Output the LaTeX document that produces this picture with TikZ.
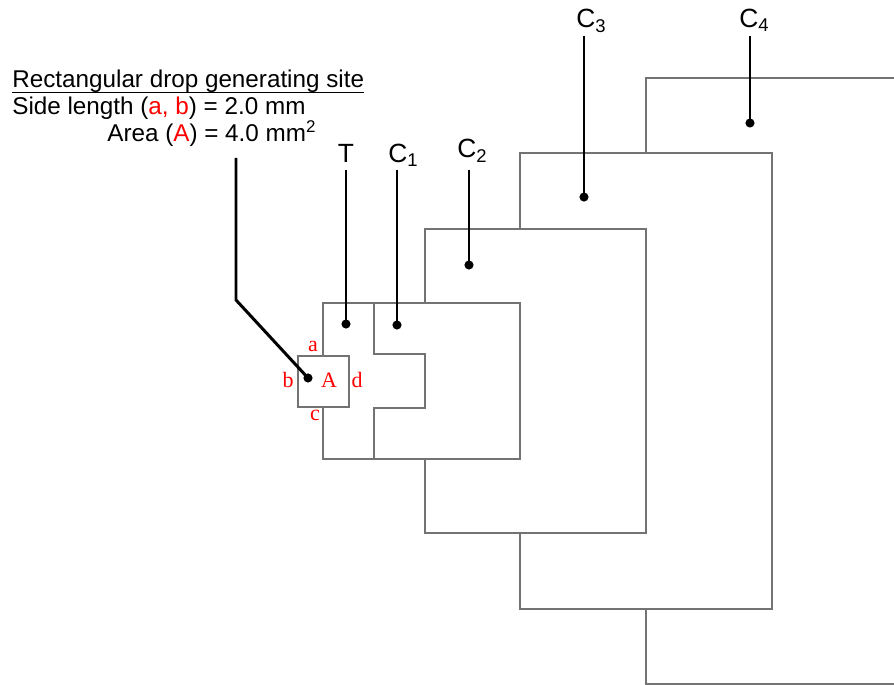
\documentclass[tikz,border=0pt]{standalone}
\usepackage{fontspec}
\setmainfont{Liberation Sans}
\newfontfamily\sitefont{Liberation Serif}
\usetikzlibrary{calc}
\tikzset{
  outline/.style={line width=0.7pt,black!55},
  lead/.style={line width=1.7pt,black},
  elabel/.style={anchor=base,inner sep=0pt,font=\fontsize{15}{18}\selectfont},
  sitelabel/.style={anchor=base,inner sep=0pt,text=red,font=\sitefont\fontsize{12.5}{15}\selectfont},
  infotext/.style={anchor=base west,inner sep=0pt,font=\fontsize{13.8}{16.5}\selectfont}
}

\begin{document}
\begin{tikzpicture}[x=0.02cm,y=-0.02cm]
\useasboundingbox (0,0) rectangle (894,685);
% electrode outlines
\draw[outline] (323,356) -- (323,303) -- (520,303) -- (520,459) -- (323,459) -- (323,407);
\draw[outline] (298,356) rectangle (349,407);
\draw[outline] (374,303) -- (374,354) -- (425,354) -- (425,408) -- (374,408) -- (374,459);
\draw[outline] (425,303) -- (425,229) -- (646,229) -- (646,533) -- (425,533) -- (425,459);
\draw[outline] (520,229) -- (520,153) -- (772,153) -- (772,609) -- (520,609) -- (520,533);
\draw[outline] (646,153) -- (646,78) -- (894,78);
\draw[outline] (646,609) -- (646,684) -- (894,684);
% info text
\node[infotext] (title) at (12,88) {Rectangular drop generating site};
\draw[line width=0.6pt] ([yshift=-2.6pt]title.base west) -- ([yshift=-2.6pt]title.base east);
\node[infotext] (side) at (12,115) {Side length (\textcolor{red}{a, b}) = 2.0 mm};
\node[infotext] (area) at (107,142) {Area (\textcolor{red}{A}) = 4.0 mm\textsuperscript{2}};
% electrode labels
\node[elabel] (lT) at (346,163) {T};
\node[elabel,anchor=base west] (lC1) at (388,163) {C\textsubscript{1}};
\node[elabel,anchor=base west] (lC2) at (457,158) {C\textsubscript{2}};
\node[elabel,anchor=base west] (lC3) at (576,28) {C\textsubscript{3}};
\node[elabel,anchor=base west] (lC4) at (739,28) {C\textsubscript{4}};
% site labels
\node[sitelabel] (sa) at (313,352) {a};
\node[sitelabel] (sb) at (288,388) {b};
\node[sitelabel] (sA) at (329,388) {A};
\node[sitelabel] (sd) at (357,388) {d};
\node[sitelabel] (sc) at (315,421) {c};
% leads
\coordinate (tS) at (236,158);
\coordinate (kS) at (236,300);
\coordinate (dS) at (308,378);
\coordinate (tT) at (346,170);
\coordinate (dT) at (346,324);
\coordinate (tC1) at (397,170);
\coordinate (dC1) at (397,325);
\coordinate (tC2) at (469,170);
\coordinate (dC2) at (469,265);
\coordinate (tC3) at (584,36);
\coordinate (dC3) at (584,197);
\coordinate (tC4) at (750,36);
\coordinate (dC4) at (750,123);
\draw[lead] (tS) -- (kS) -- (dS);
\draw[lead] (tT) -- (dT);
\draw[lead] (tC1) -- (dC1);
\draw[lead] (tC2) -- (dC2);
\draw[lead] (tC3) -- (dC3);
\draw[lead] (tC4) -- (dC4);
\foreach \p in {dS,dT,dC1,dC2,dC3,dC4}
	\fill (\p) circle (2.6pt);
\end{tikzpicture}
\end{document}
